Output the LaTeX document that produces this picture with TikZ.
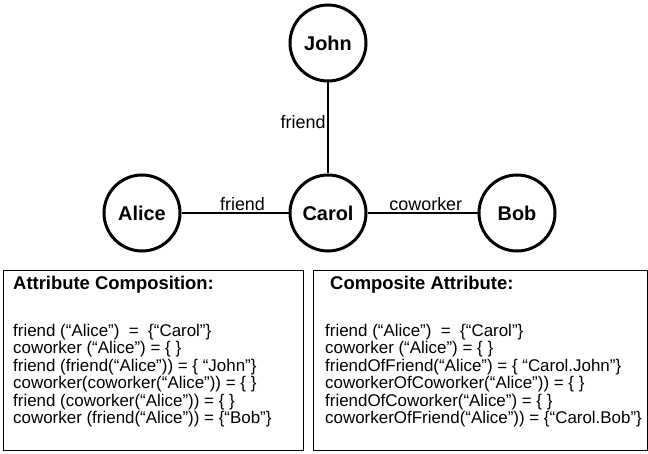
\documentclass[tikz,border=0pt]{standalone}
\usepackage{fontspec}
\setmainfont{Liberation Sans}
\usepackage{tikz}
\tikzset{
  person/.style={circle, draw, line width=3bp, minimum size=76bp, inner sep=0pt, font=\fontsize{20}{22}\selectfont\bfseries},
  rel/.style={line width=2bp},
  rellabel/.style={inner sep=1.5bp, font=\fontsize{18}{20}\selectfont},
  listbox/.style={draw, line width=1bp, minimum width=300bp, minimum height=180bp, anchor=north west, inner sep=0pt},
  boxtitle/.style={anchor=base west, inner sep=0pt, font=\fontsize{18.5}{20}\selectfont\bfseries},
  boxlist/.style={anchor=north west, inner sep=0pt, align=left, font=\fontsize{17}{17.5}\selectfont}
}

\begin{document}
\begin{tikzpicture}[x=1bp, y=-1bp]
        \useasboundingbox (0,0) rectangle (648,454);
        % the graph
        \node[person] (john) at (328,43) {John};
        \node[person] (alice) at (142,213) {Alice};
        \node[person] (carol) at (328,213) {Carol};
        \node[person] (bob) at (517,213) {Bob};
        \draw[rel] (john) -- node[rellabel, left, pos=0.44] {friend} (carol);
        \draw[rel] (alice) -- node[rellabel, above, pos=0.57] {friend} (carol);
        \draw[rel] (carol) -- node[rellabel, above, pos=0.53] {coworker} (bob);
        % the two boxes
        \node[listbox] (attcomp) at (3,270) {};
        \node[listbox, minimum width=334bp] (compatt) at (313,270) {};
        \node[boxtitle] (attcomptitle) at (13,290) {Attribute Composition:};
        \node[boxtitle] (compatttitle) at (330,290) {Composite Attribute:};
        \node[boxlist] (attcomplist) at (13,324) {%
          friend (“Alice”) \ = \ {\{}“Carol”{\}}\\
          coworker (“Alice”) = {\{} {\}}\\
          friend (friend(“Alice”)) = {\{} “John”{\}}\\
          coworker(coworker(“Alice”)) = {\{} {\}}\\
          friend (coworker(“Alice”)) = {\{} {\}}\\
          coworker (friend(“Alice”)) = {\{}“Bob”{\}}};
        \node[boxlist] (compattlist) at (325,324) {%
          friend (“Alice”) \ = \ {\{}“Carol”{\}}\\
          coworker (“Alice”) = {\{} {\}}\\
          friendOfFriend(“Alice”) = {\{} “Carol.John”{\}}\\
          coworkerOfCoworker(“Alice”)) = {\{} {\}}\\
          friendOfCoworker(“Alice”) = {\{} {\}}\\
          coworkerOfFriend(“Alice”)) = {\{}“Carol.Bob”{\}}};
\end{tikzpicture}
\end{document}
